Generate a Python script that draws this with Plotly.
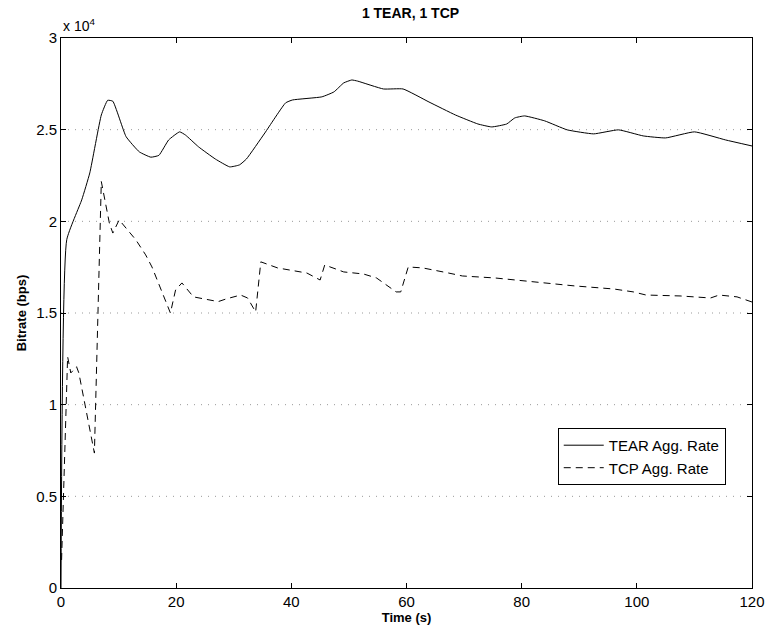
import plotly.graph_objects as go

# TEAR aggregate rate (bps)
tear_t = [0, 1.0, 3.6, 5.0, 7.0, 8.1, 9.0, 11.3, 13.6, 15.6, 17.0, 18.7, 20.6, 21.6, 23.9,
          26.8, 29.3, 31.0, 32.2, 35.4, 39.0, 40.2, 45.3, 47.4, 49.1, 50.5, 51.5, 56.0, 59.4,
          63.9, 68.5, 72.4, 74.8, 77.4, 78.8, 80.5, 84.0, 87.9, 92.5, 96.8, 101.1, 105.0,
          110.0, 115.4, 120.0]
tear_v = [0, 19000, 21170, 22640, 25800, 26600, 26550, 24620, 23790, 23500, 23600, 24440, 24880,
          24710, 24060, 23400, 22970, 23080, 23400, 24820, 26460, 26620, 26790, 27060, 27550,
          27710, 27650, 27220, 27220, 26510, 25800, 25310, 25150, 25310, 25640, 25750, 25480,
          24990, 24770, 24990, 24660, 24550, 24880, 24440, 24110]

# TCP aggregate rate (bps)
tcp_t = [0.1, 1.15, 1.7, 2.7, 3.1, 5.8, 7.0, 8.4, 9.0, 10.1, 13.0, 14.7, 15.8, 19.0, 19.9, 21.0,
         23.0, 27.3, 28.7, 31.2, 32.4, 33.8, 34.7, 37.6, 42.7, 45.0, 45.8, 49.1, 52.5, 54.8,
         58.2, 59.0, 60.3, 62.8, 67.3, 69.7, 75.4, 82.2, 89.1, 96.0, 99.4, 101.6, 107.5,
         112.8, 114.3, 117.4, 120.0]
tcp_v = [1530, 12620, 11730, 12070, 11730, 7360, 22170, 19900, 19360, 20080, 18990, 18170, 17510,
         15000, 16260, 16640, 15880, 15620, 15770, 15980, 15820, 15060, 17790, 17460, 17180,
         16800, 17620, 17240, 17130, 16910, 16150, 16150, 17510, 17460, 17180, 17020, 16910,
         16690, 16480, 16310, 16150, 15980, 15930, 15820, 15980, 15880, 15600]

x_ticks = [0, 20, 40, 60, 80, 100, 120]
y_ticks = [0, 5000, 10000, 15000, 20000, 25000, 30000]
y_tick_text = ["0", "0.5", "1", "1.5", "2", "2.5", "3"]

FONT = "Liberation Sans, Arial, Helvetica, sans-serif"

fig = go.Figure()
fig.add_trace(go.Scatter(x=tear_t, y=tear_v, mode="lines", name="TEAR Agg. Rate",
                         line=dict(color="black", width=1, shape="spline", smoothing=0.4)))
fig.add_trace(go.Scatter(x=tcp_t, y=tcp_v, mode="lines", name="TCP Agg. Rate",
                         line=dict(color="black", width=1, dash="7px,5px")))

# dotted grid lines at interior y ticks
for yv in y_ticks[1:-1]:
    fig.add_shape(type="line", xref="paper", yref="y", x0=0, x1=1, y0=yv, y1=yv,
                  line=dict(color="#999999", width=1, dash="1px,6px"), layer="below")

fig.update_layout(
    width=777, height=634,
    margin=dict(l=61, r=17, t=38, b=46),
    paper_bgcolor="white", plot_bgcolor="white",
    font=dict(family=FONT, size=14, color="black"),
    title=dict(text="<b>1 TEAR, 1 TCP</b>", x=(61 + 760) / 2 / 777, xanchor="center",
               y=1 - 13 / 634, yanchor="middle", yref="container",
               font=dict(family=FONT, size=14, color="black")),
    showlegend=True,
    legend=dict(x=0.962, xanchor="right", y=0.291, yanchor="top",
                bordercolor="black", borderwidth=1, bgcolor="white",
                font=dict(family=FONT, size=15, color="black"),
                tracegroupgap=0, itemwidth=40),
    xaxis=dict(range=[0, 120], tickvals=x_ticks, ticks="inside", ticklen=5, tickcolor="black",
               showline=True, linecolor="black", linewidth=1, mirror="ticks",
               showgrid=False, zeroline=False,
               tickfont=dict(family=FONT, size=15, color="black"),
               title=dict(text="<b>Time (s)</b>", standoff=1,
                          font=dict(family=FONT, size=13, color="black"))),
    yaxis=dict(range=[0, 30000], tickvals=y_ticks, ticktext=y_tick_text, ticks="inside",
               ticklen=5, tickcolor="black",
               showline=True, linecolor="black", linewidth=1, mirror="ticks",
               showgrid=False, zeroline=False,
               tickfont=dict(family=FONT, size=15, color="black"),
               title=dict(text="<b>Bitrate (bps)</b>", standoff=6,
                          font=dict(family=FONT, size=13, color="black"))),
)

fig.add_annotation(xref="paper", yref="paper", x=0, y=1, xanchor="left", yanchor="bottom",
                   xshift=0, yshift=2, showarrow=False,
                   text="x 10<sup>4</sup>", font=dict(family=FONT, size=14, color="black"))

fig.write_html("out.html")
